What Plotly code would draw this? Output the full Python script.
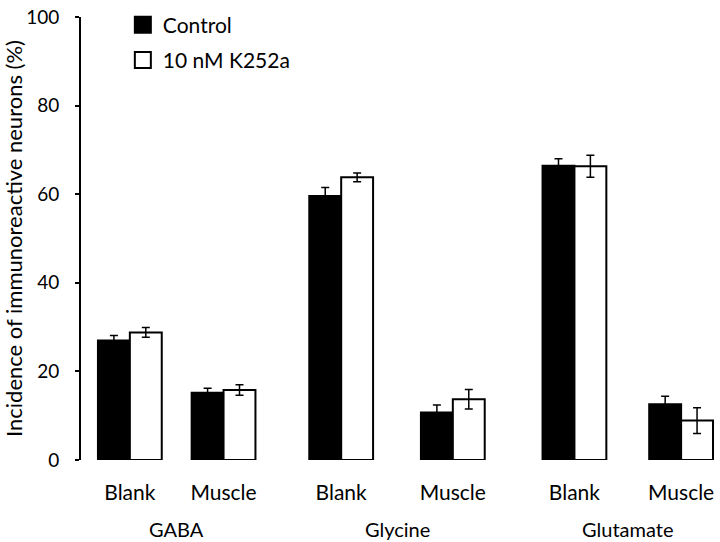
import plotly.graph_objects as go

# ---- data ----
groups = ["GABA", "Glycine", "Glutamate"]
conditions = ["Blank", "Muscle", "Blank", "Muscle", "Blank", "Muscle"]
control_vals = [27.0, 15.2, 59.6, 10.7, 66.4, 12.6]
control_err = [1.1, 1.0, 1.9, 1.7, 1.6, 1.8]
k252a_vals = [28.8, 15.8, 63.8, 13.7, 66.3, 8.9]
k252a_err = [1.1, 1.2, 1.0, 2.2, 2.5, 2.9]
y_ticks = [0, 20, 40, 60, 80, 100]

# ---- layout helpers (positions along the x axis) ----
x_pos = [49, 143, 261, 373, 495, 602]
bar_w = 32
FONT = "Lato"

fig = go.Figure()
fig.add_trace(go.Bar(
    x=x_pos, y=control_vals, width=bar_w, offset=-bar_w,
    marker=dict(color="black", line=dict(color="black", width=2)),
    error_y=dict(type="data", array=control_err, color="black", thickness=1.5, width=4),
    name="Control", showlegend=False))
fig.add_trace(go.Bar(
    x=x_pos, y=k252a_vals, width=bar_w, offset=0,
    marker=dict(color="white", line=dict(color="black", width=2)),
    error_y=dict(type="data", array=k252a_err, color="black", thickness=1.5, width=4),
    name="10 nM K252a", showlegend=False))

# legend entries
fig.add_trace(go.Scatter(x=[None], y=[None], mode="markers", name="Control",
                         legendgroup="a",
                         marker=dict(symbol="square", size=19, color="black",
                                     line=dict(color="black", width=2))))
fig.add_trace(go.Scatter(x=[None], y=[None], mode="markers", name="10 nM K252a",
                         legendgroup="b",
                         marker=dict(symbol="square", size=19, color="white",
                                     line=dict(color="black", width=2))))

for i, g in enumerate(groups):
    xm = (x_pos[2 * i] + x_pos[2 * i + 1]) / 2
    fig.add_annotation(x=xm, y=0, xref="x", yref="y", yshift=-69, text=g,
                       showarrow=False, font=dict(family=FONT, size=20, color="black"))

fig.update_layout(
    width=720, height=542,
    margin=dict(l=79, r=5, t=10, b=82),
    paper_bgcolor="white", plot_bgcolor="white",
    font=dict(family=FONT, size=20, color="black"),
    barmode="overlay",
    showlegend=True,
    legend=dict(x=0.066, y=1.028, xanchor="left", yanchor="top",
                font=dict(family=FONT, size=21, color="black"),
                itemsizing="trace", tracegroupgap=5, bgcolor="rgba(0,0,0,0)"),
    xaxis=dict(range=[0, 636], tickvals=x_pos, ticktext=conditions,
               showline=False, showgrid=False, zeroline=False, ticks="",
               ticklabelstandoff=18, tickfont=dict(family=FONT, size=21)),
    yaxis=dict(range=[0, 100], tickvals=y_ticks, showline=True, linecolor="black",
               linewidth=2, ticks="outside", ticklen=4, tickwidth=2, tickcolor="black",
               showgrid=False, zeroline=False, ticklabelstandoff=12,
               ticklabeloverflow="allow",
               tickfont=dict(family=FONT, size=19),
               title=dict(text="Incidence of immunoreactive neurons (%)",
                          font=dict(family=FONT, size=22), standoff=6)),
)

fig.write_html("out.html", config={"displayModeBar": False},
               post_script="document.body.style.margin='0';")
